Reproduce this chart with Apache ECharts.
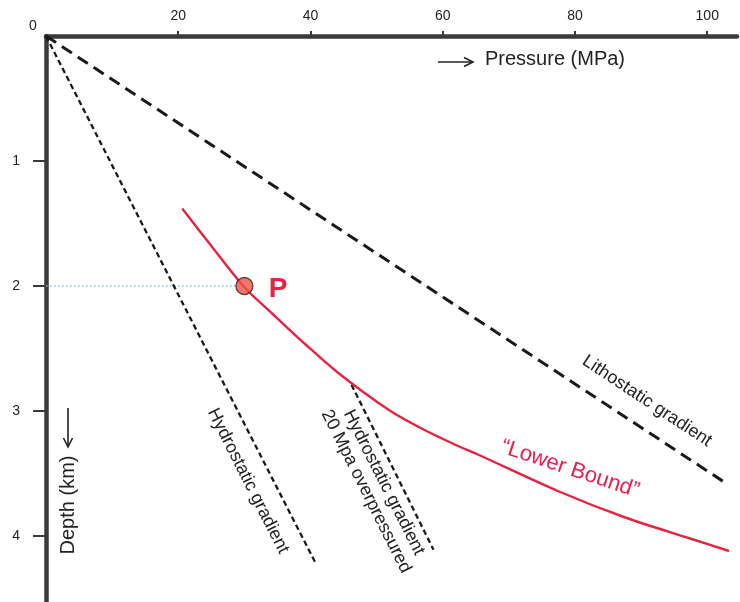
<!DOCTYPE html>
<html>
<head>
<meta charset="utf-8">
<script src="https://cdn.jsdelivr.net/npm/echarts@6/dist/echarts.min.js"></script>
<style>
html,body{margin:0;padding:0;background:#fff;}
#c{width:740px;height:602px;}
</style>
</head>
<body>
<div id="c"></div>
<script>
// Pressure (MPa) vs depth (km)
const xTicks = [20, 40, 60, 80, 100];
const yTicks = [1, 2, 3, 4];
const lithostatic = [[0, 0], [102.6, 3.57]];
const hydrostatic = [[0, 0], [40.8, 4.22]];
const hydroOver20 = [[46.2, 2.79], [58.6, 4.11]];
const lowerBound = [
  [20.6, 1.38], [25.3, 1.70], [30.0, 2.01], [34.2, 2.22], [39.3, 2.47],
  [44.3, 2.70], [51.8, 2.99], [56.8, 3.14], [61.9, 3.27], [65.4, 3.35],
  [77.4, 3.64], [87.5, 3.85], [97.4, 4.02], [103.3, 4.12]
];
const pointP = [[30.0, 2.0]];
const pGuide = [[0, 2.0], [29.0, 2.0]];

const chart = echarts.init(document.getElementById('c'), null, {renderer: 'canvas'});
const FONT = '"Liberation Sans", Arial, sans-serif';
const RED = '#e8233f';

chart.setOption({
  animation: false,
  backgroundColor: '#ffffff',
  grid: {left: 46, top: 36, width: 694, height: 566, containLabel: false},
  xAxis: {
    type: 'value', position: 'top', min: 0, max: 104.5, interval: 20,
    axisLine: {show: true, lineStyle: {color: '#3a3a3a', width: 4.5}},
    axisTick: {show: true, inside: false, length: 5, customValues: xTicks, lineStyle: {color: '#3a3a3a', width: 2}},
    axisLabel: {
      margin: 13, fontSize: 14, color: '#222', fontFamily: FONT,
      formatter: v => (xTicks.indexOf(v) >= 0 ? String(v) : '')
    },
    splitLine: {show: false}
  },
  yAxis: {
    type: 'value', inverse: true, min: 0, max: 4.528, interval: 1,
    axisLine: {show: true, lineStyle: {color: '#3a3a3a', width: 4.5}},
    axisTick: {show: true, inside: false, length: 13, customValues: yTicks, lineStyle: {color: '#3a3a3a', width: 2}},
    axisLabel: {
      margin: 26, fontSize: 14, color: '#222', fontFamily: FONT,
      formatter: v => (yTicks.indexOf(v) >= 0 ? String(v) : '')
    },
    splitLine: {show: false}
  },
  series: [
    {type: 'line', data: pGuide, symbol: 'none', z: 1,
     lineStyle: {color: '#8fb8dc', width: 1.3, type: [1.5, 2.5]}},
    {type: 'line', data: lithostatic, symbol: 'none',
     lineStyle: {color: '#1a1a1a', width: 3, type: [12, 7]}},
    {type: 'line', data: hydrostatic, symbol: 'none',
     lineStyle: {color: '#1a1a1a', width: 2.3, type: [5.5, 3.5]}},
    {type: 'line', data: hydroOver20, symbol: 'none',
     lineStyle: {color: '#1a1a1a', width: 2.3, type: [5.5, 3.5]}},
    {type: 'line', data: lowerBound, symbol: 'none', smooth: 0.3,
     lineStyle: {color: RED, width: 2.4}},
    {type: 'scatter', data: pointP, symbolSize: 17, z: 5,
     itemStyle: {color: '#ee5446', borderColor: '#3a2222', borderWidth: 1.3}}
  ],
  graphic: [
    {type: 'text', x: 33, y: 26, style: {text: '0', font: '14px ' + FONT, fill: '#222', align: 'center', verticalAlign: 'middle'}},
    {type: 'text', x: 278, y: 289, style: {text: 'P', font: 'bold 28px ' + FONT, fill: RED, align: 'center', verticalAlign: 'middle'}},
    // Pressure axis title with arrow
    {type: 'line', shape: {x1: 438, y1: 62, x2: 472, y2: 62}, style: {stroke: '#222', lineWidth: 1.6}},
    {type: 'polyline', shape: {points: [[464, 57.5], [473, 62], [464, 66.5]]}, style: {stroke: '#222', lineWidth: 1.6, fill: null}},
    {type: 'text', x: 485, y: 59, style: {text: 'Pressure (MPa)', font: '20px ' + FONT, fill: '#222', align: 'left', verticalAlign: 'middle'}},
    // Depth axis title with arrow
    {type: 'text', x: 68, y: 505, rotation: Math.PI / 2, style: {text: 'Depth (km)', font: '20px ' + FONT, fill: '#222', align: 'center', verticalAlign: 'middle'}},
    {type: 'line', shape: {x1: 68, y1: 408, x2: 68, y2: 446}, style: {stroke: '#222', lineWidth: 1.6}},
    {type: 'polyline', shape: {points: [[63.5, 438], [68, 447], [72.5, 438]]}, style: {stroke: '#222', lineWidth: 1.6, fill: null}},
    // line labels
    {type: 'text', x: 647, y: 401, rotation: -33.5 * Math.PI / 180, style: {text: 'Lithostatic gradient', font: '18px ' + FONT, fill: '#222', align: 'center', verticalAlign: 'middle'}},
    {type: 'text', x: 248, y: 481, rotation: -63.2 * Math.PI / 180, style: {text: 'Hydrostatic gradient', font: '18px ' + FONT, fill: '#222', align: 'center', verticalAlign: 'middle'}},
    {type: 'text', x: 375, y: 487, rotation: -63.3 * Math.PI / 180, style: {text: 'Hydrostatic gradient\n20 Mpa overpressured', font: '18px ' + FONT, lineHeight: 20, fill: '#222', align: 'center', verticalAlign: 'middle'}},
    {type: 'text', x: 570, y: 469, rotation: -18.3 * Math.PI / 180, style: {text: '\u201CLower Bound\u201D', font: '22px ' + FONT, fill: '#e6204f', align: 'center', verticalAlign: 'middle'}}
  ]
});
</script>
</body>
</html>
